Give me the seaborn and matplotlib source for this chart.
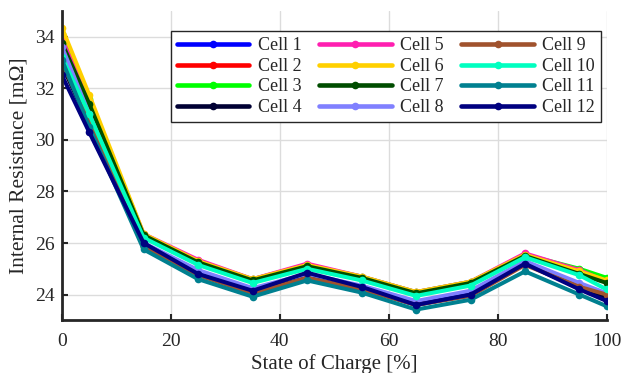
import matplotlib
matplotlib.use("Agg")
import matplotlib.pyplot as plt
import seaborn as sns
import pandas as pd

soc = [0, 5, 15, 25, 35, 45, 55, 65, 75, 85, 95, 100]
cells = [f"Cell {i}" for i in range(1, 13)]

cell1 = [33.3, 30.8, 25.95, 24.9, 24.2, 24.75, 24.3, 23.7, 24.05, 25.25, 24.35, 23.9]
cell2 = [33.7, 31.3, 26.25, 25.2, 24.5, 25.1, 24.6, 24.0, 24.4, 25.5, 24.85, 24.5]
cell3 = [34.1, 31.6, 26.3, 25.3, 24.6, 25.15, 24.7, 24.1, 24.5, 25.55, 25.0, 24.65]
cell4 = [32.9, 30.6, 25.9, 24.8, 24.1, 24.7, 24.25, 23.6, 24.0, 25.2, 24.25, 23.85]
cell5 = [33.9, 31.5, 26.35, 25.35, 24.6, 25.2, 24.7, 24.1, 24.5, 25.6, 24.95, 24.5]
cell6 = [34.35, 31.75, 26.35, 25.3, 24.6, 25.15, 24.7, 24.1, 24.5, 25.55, 24.9, 24.55]
cell7 = [33.75, 31.4, 26.3, 25.25, 24.55, 25.1, 24.65, 24.05, 24.45, 25.5, 24.8, 24.45]
cell8 = [33.6, 31.0, 26.0, 24.95, 24.25, 24.8, 24.35, 23.75, 24.15, 25.3, 24.45, 24.05]
cell9 = [33.0, 30.7, 25.85, 24.75, 24.05, 24.65, 24.2, 23.6, 23.95, 25.15, 24.3, 24.0]
cell10 = [33.2, 31.0, 26.2, 25.15, 24.45, 25.0, 24.55, 23.95, 24.35, 25.45, 24.75, 24.2]
cell11 = [33.1, 30.5, 25.75, 24.6, 23.92, 24.55, 24.08, 23.42, 23.8, 24.9, 24.0, 23.55]
cell12 = [32.5, 30.3, 26.0, 24.8, 24.15, 24.85, 24.3, 23.6, 24.0, 25.2, 24.2, 23.75]

values = [cell1, cell2, cell3, cell4, cell5, cell6, cell7, cell8, cell9, cell10, cell11, cell12]
colors = ["#0000FF", "#FF0000", "#00FF00", "#000033", "#FF1FB0", "#FFD000",
          "#004D00", "#8080FF", "#A0522D", "#00FFC0", "#008090", "#000080"]

rows = []
for name, vals in zip(cells, values):
    for s, v in zip(soc, vals):
        rows.append({"SoC": s, "R": v, "Cell": name})
df = pd.DataFrame(rows)

sns.set_theme(style="whitegrid")
plt.rcParams["font.family"] = ["Liberation Serif", "DejaVu Serif"]
plt.rcParams["mathtext.fontset"] = "stix"

fig = plt.figure(figsize=(6.32, 3.73), dpi=100)
ax = fig.add_axes([0.098, 0.141, 0.862, 0.830])

sns.lineplot(data=df, x="SoC", y="R", hue="Cell", hue_order=cells,
             palette=dict(zip(cells, colors)), marker="o", markersize=5.5,
             markeredgewidth=0, linewidth=2.9, ax=ax, legend=True)

ax.set_xlim(0, 100)
ax.set_ylim(23, 35)
ax.set_xticks([0, 20, 40, 60, 80, 100])
ax.set_yticks([24, 26, 28, 30, 32, 34])
ax.set_xlabel("State of Charge [%]", fontsize=15, color="#262626", labelpad=3)
ax.set_ylabel("Internal Resistance [m\u03a9]", fontsize=15.5, color="#262626", labelpad=5)
ax.tick_params(axis="both", labelsize=14, colors="#262626", direction="in",
               length=4, width=1.5, left=True, bottom=True)
ax.tick_params(axis="x", pad=9)
ax.tick_params(axis="y", pad=5)
ax.grid(True, color="#dcdcdc", linewidth=1.0)
for side in ["top", "right"]:
    ax.spines[side].set_visible(False)
for side in ["left", "bottom"]:
    ax.spines[side].set_color("#262626")
    ax.spines[side].set_linewidth(2.0)

leg = ax.legend(ncol=3, loc="upper left", bbox_to_anchor=(0.2, 0.935),
                borderaxespad=0.0,
                fontsize=13, frameon=True, fancybox=False, edgecolor="#262626",
                framealpha=1, handlelength=4.0, handletextpad=0.45,
                columnspacing=1.0, labelspacing=0.2, borderpad=0.35,
                title=None)
leg.get_frame().set_linewidth(1.0)
for line in leg.get_lines():
    line.set_linewidth(3.3)

fig.savefig("out.png", dpi=100)
